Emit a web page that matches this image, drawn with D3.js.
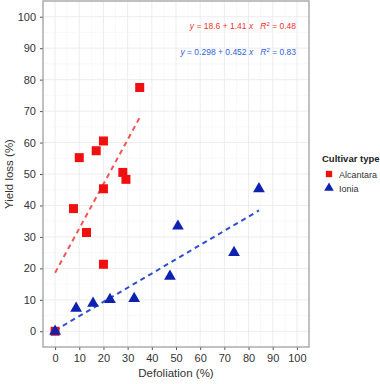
<!DOCTYPE html>
<html><head><meta charset="utf-8">
<script src="https://cdn.jsdelivr.net/npm/d3@7"></script>
<style>body{margin:0;background:#fff}svg{display:block;font-family:"Liberation Sans",Arial,sans-serif}</style>
</head><body><svg id="c" width="380" height="384"></svg>
<script>
const alcX = [0, 10, 17, 20, 35, 28, 29.3, 20, 7.6, 13, 20];
const alcY = [0, 55.2, 57.4, 60.5, 77.5, 50.5, 48.3, 45.3, 39, 31.4, 21.3];
const ionX = [0, 8.7, 15.7, 22.7, 32.7, 47.5, 50.8, 74, 84.3];
const ionY = [0, 7.3, 8.9, 10.1, 10.4, 17.5, 33.4, 25, 45.3];
const fits = [
  {name: "Alcantara", a: 18.6, b: 1.41, x0: 0, x1: 35},
  {name: "Ionia", a: 0.298, b: 0.452, x0: 0, x1: 84.3}
];
const xTicks = [0,10,20,30,40,50,60,70,80,90,100];
const yTicks = [0,10,20,30,40,50,60,70,80,90,100];
const legendLabels = ["Alcantara", "Ionia"];

const svg = d3.select("#c");
const L = 43, R = 309, T = 1, B = 347;
const x = d3.scaleLinear().domain([-5,105]).range([L,R]);
const y = d3.scaleLinear().domain([-5,105]).range([B,T]);
const red = "#f01010", blue = "#0d23b0";

// grid
const g = svg.append("g");
const minor = d3.range(-5,106,5);
g.selectAll(".vx").data(minor).join("line").attr("x1",d=>x(d)).attr("x2",d=>x(d)).attr("y1",T).attr("y2",B)
 .attr("stroke", d=>d%10===0?"#e8e8e8":"#f3f3f3").attr("stroke-width", d=>d%10===0?0.8:0.5);
g.selectAll(".hy").data(minor).join("line").attr("y1",d=>y(d)).attr("y2",d=>y(d)).attr("x1",L).attr("x2",R)
 .attr("stroke", d=>d%10===0?"#e8e8e8":"#f3f3f3").attr("stroke-width", d=>d%10===0?0.8:0.5);

// axes
const xa = svg.append("g").attr("transform",`translate(0,${B})`)
  .call(d3.axisBottom(x).tickValues(xTicks).tickSize(3).tickPadding(4));
const ya = svg.append("g").attr("transform",`translate(${L},0)`)
  .call(d3.axisLeft(y).tickValues(yTicks).tickSize(3).tickPadding(4));
[xa,ya].forEach(a=>{a.select(".domain").remove();
  a.selectAll("line").attr("stroke","#555");
  a.selectAll("text").attr("fill","#333").attr("font-size","11px").attr("font-family","Liberation Sans, Arial, sans-serif");});

// border
svg.append("rect").attr("x",L).attr("y",T).attr("width",R-L).attr("height",B-T)
  .attr("fill","none").attr("stroke","#999").attr("stroke-width",1.2);

// fit lines
const lineCols = {Alcantara:"#f25555", Ionia:"#2f4fd0"};
svg.selectAll(".fit").data(fits).join("line")
  .attr("x1",d=>x(d.x0)).attr("y1",d=>y(d.a+d.b*d.x0))
  .attr("x2",d=>x(d.x1)).attr("y2",d=>y(d.a+d.b*d.x1))
  .attr("stroke",d=>lineCols[d.name]).attr("stroke-width",2).attr("stroke-dasharray","5,4");

// points
const sq = d3.symbol().type(d3.symbolSquare).size(81);
const tri = d3.symbol().type(d3.symbolTriangle).size(60);
svg.selectAll(".a").data(alcX).join("path").attr("d",sq)
  .attr("transform",(d,i)=>`translate(${x(d)},${y(alcY[i])})`).attr("fill",red);
svg.selectAll(".b").data(ionX).join("path").attr("d",tri)
  .attr("transform",(d,i)=>`translate(${x(d)},${y(ionY[i])})`).attr("fill",blue);

// equations
const NB = "\u00a0";
function eq(yy, col, a, b, r2){
  const t = svg.append("text").attr("x",296).attr("y",yy).attr("text-anchor","end")
    .attr("font-size","8.5px").attr("fill",col);
  t.append("tspan").attr("font-style","italic").text("y");
  t.append("tspan").text(`${NB}=${NB}${a}${NB}+${NB}${b}${NB}`);
  t.append("tspan").attr("font-style","italic").text("x");
  t.append("tspan").text(NB+NB+NB);
  t.append("tspan").attr("font-style","italic").text("R");
  t.append("tspan").attr("dy",-3).attr("font-size","6px").text("2");
  t.append("tspan").attr("dy",3).text(`${NB}=${NB}${r2}`);
}
eq(29, "#f03030", "18.6", "1.41", "0.48");
eq(55, "#2f5fd8", "0.298", "0.452", "0.83");

// axis titles
svg.append("text").attr("x",(L+R)/2).attr("y",377).attr("text-anchor","middle")
  .attr("font-size","11.5px").attr("fill","#333").text("Defoliation (%)");
svg.append("text").attr("transform",`translate(13,${(T+B)/2}) rotate(-90)`).attr("text-anchor","middle")
  .attr("font-size","11.5px").attr("fill","#333").text("Yield loss (%)");

// legend
svg.append("text").attr("x",322).attr("y",162).attr("font-size","9.5px").attr("font-weight","bold")
  .attr("fill","#222").text("Cultivar type");
const lg = svg.selectAll(".lg").data(legendLabels).join("g")
  .attr("transform",(d,i)=>`translate(329,${174+i*14})`);
lg.append("path").attr("d",(d,i)=>i===0?d3.symbol().type(d3.symbolSquare).size(40)():d3.symbol().type(d3.symbolTriangle).size(40)())
  .attr("fill",(d,i)=>i===0?red:blue);
lg.append("text").attr("x",10).attr("y",3.5).attr("font-size","9px").attr("fill","#333").text(d=>d);
</script></body></html>
